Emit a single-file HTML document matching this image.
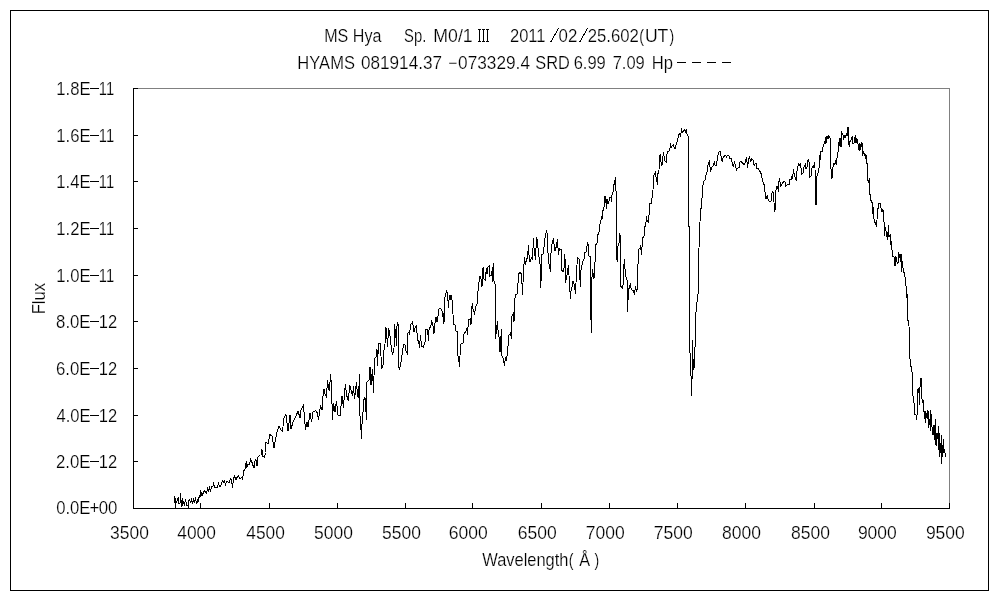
<!DOCTYPE html>
<html><head><meta charset="utf-8"><title>MS Hya spectrum</title>
<style>html,body{margin:0;padding:0;background:#fff;}svg{display:block;will-change:transform;}text{font-family:"Liberation Sans",sans-serif;fill:#000;stroke:#fff;stroke-width:0.2px;paint-order:fill stroke;vector-effect:non-scaling-stroke;}</style>
</head><body>
<svg width="1000" height="600" viewBox="0 0 1000 600">
<rect x="0" y="0" width="1000" height="600" fill="#fff"/>
<rect x="10.5" y="10.5" width="978" height="580" fill="none" stroke="#000" stroke-width="1" shape-rendering="crispEdges"/>
<g shape-rendering="crispEdges" fill="none" stroke-width="1">
<path d="M138 88.5H950M949.5 88V503" stroke="#808080"/>
<path d="M133.5 88V509M133 508.5H950" stroke="#000"/>
<path d="M134 461.5H138M134 415.5H138M134 368.5H138M134 321.5H138M134 275.5H138M134 228.5H138M134 181.5H138M134 135.5H138M134 88.5H138M200.5 503V508M269.5 503V508M337.5 503V508M405.5 503V508M472.5 503V508M541.5 503V508M609.5 503V508M677.5 503V508M745.5 503V508M814.5 503V508M881.5 503V508M949.5 503V508M677 62.5H686M692 62.5H701M707 62.5H716M722 62.5H731M479.5 29V42M478.0 29.5H481.0M478.0 41.5H481.0M483.5 29V42M482.0 29.5H485.0M482.0 41.5H485.0M487.5 29V42M486.0 29.5H489.0M486.0 41.5H489.0" stroke="#000"/>
<path d="M550.5 42.5L558.5 28.5M579.5 42.5L587.5 28.5" stroke="#000"/>
</g>
<path d="M174.5 495.5 L174.5 502.5 L175.5 498.5 L175.5 508 L175.5 502.5 L176.5 502.5 L177.5 499.5 L178.5 497.5 L178.5 503.5 L180 503 L180.5 493.5 L181.5 506.5 L182.5 498.5 L182.5 505.5 L183.5 502.5 L184.5 505.5 L185.5 499.5 L186.5 505 L188 505.5 L188.5 508 L188.5 501 L189.5 499.5 L190.5 502 L191.5 499.5 L192.5 503.5 L193.5 499.5 L194.5 501.5 L195.5 498.5 L196.5 503.5 L197.5 502 L198.5 497 L198.5 501.5 L199.5 495.5 L200 497.5 L200.5 490.5 L201.5 494 L202 492.5 L202.5 495.5 L203.5 491.5 L204.5 490.5 L205.5 492.5 L206.5 493.5 L207.5 488.5 L208.5 491 L209.5 487.5 L210.5 491.5 L211.5 486.5 L213 486.5 L213.5 482.5 L214.5 487 L216 487 L217 487.5 L218.5 483.5 L219.5 486 L220.5 486.5 L222.5 480.5 L223.5 482 L224.5 481 L225.5 484.5 L226.5 481.5 L228 482 L229 483 L230.5 479 L231.5 479.5 L232.5 487.5 L233.5 478.5 L234.5 476.5 L236 479.5 L237.5 476.5 L238.5 475.5 L240 479 L241.5 477.5 L242.5 479 L243 476.5 L243.5 471 L245 469.5 L245.5 464.5 L246.5 461.5 L246.5 467.5 L248 464.5 L249.5 464 L250.5 459.5 L251.5 461.5 L252.5 463.5 L253.5 467.5 L254.5 467 L255 461 L256 459.5 L256.5 465.5 L257.5 465 L257.5 457.5 L259 456 L260.5 455.5 L261.5 454.5 L262 449.5 L262.5 456 L264.5 457.5 L265.5 452.5 L266 442 L268 444 L270 434.5 L272 436 L274 448 L276 437 L277 432 L279 426 L281 430 L282.5 431 L284 418 L286 414.5 L288 431 L290 415 L291 429 L293 422 L296 416 L298 411 L300 418 L301 410 L303.5 405.5 L305.5 430 L307 422 L308 427 L310 413 L311.5 422 L313 412 L315.5 410.5 L317.5 413 L318.5 420 L320.5 405.5 L322 410 L323 396 L324 389 L325 394 L326.5 397 L327.5 380 L328.5 388 L329.5 391 L330.5 374 L331.5 386 L332.5 420 L333.5 403 L335 412 L336.5 401 L338 415 L340 416 L342 396 L343.5 408 L344.5 393 L345.5 384 L346.5 395 L348.5 401 L349.5 385 L350.5 388 L352.5 396 L353.5 386 L354.5 399 L356.5 382 L357.5 396 L358.5 398 L359.5 374 L359.5 410 L360.5 422 L361.5 438.5 L362 424.5 L362.5 413 L363.5 412.5 L364 399.5 L365 397.5 L366.5 419.5 L367 382 L369 380 L370 367 L371 385 L372.5 369 L373.5 393 L374.5 359 L376 357 L377 349 L377.5 366 L378.5 343 L380.5 343 L381.5 369 L383 365 L384 350 L385 344 L385.5 327 L386.5 330 L387.5 347 L388.5 329 L389.5 331 L391 345 L392.5 355 L394 348 L394.5 324 L396 338 L396.5 346 L397 326 L398 322 L398.5 365 L399.5 370 L400.5 365 L402 355 L403.5 345 L405 344.5 L406 351 L407.5 354.5 L408 333 L409.5 332.5 L409.5 335 L410.5 325 L412.5 322 L414 332 L415 328 L416.5 325.5 L417.5 340 L418.5 341 L419.5 347.5 L420.5 335 L421.5 346 L423.5 347 L424.5 343 L425.5 341 L426 329.5 L427.5 329.5 L428.5 340.5 L429 330 L431 325 L431.5 320 L433 326 L434 333.5 L435 323 L436 317.5 L437 322 L438 316.5 L439 309 L440.5 308.5 L442 311 L442 317 L443 313 L443.5 324 L444.5 320 L445 297 L446.5 290.5 L447.5 294 L448.5 308 L449 300 L450 295 L450.5 300 L451.5 295.5 L452.5 304 L453.5 324 L455 324.5 L456 331 L457 331 L457.5 353 L458.5 358 L459.5 366.5 L460.5 345 L461.5 343.5 L463 343 L464 334 L465.5 332 L467 328.5 L467.5 335 L468.5 320 L470.5 318.5 L471 324.5 L471.5 308 L472.5 303.5 L473 309 L474.5 313.5 L476 306 L477.5 303 L478 291.5 L479 282 L480 276.5 L481 279 L482 286.5 L482.5 269 L483.5 267.5 L484 279 L485.5 280 L486 272 L486.5 268 L487 274 L488 267 L489.5 265.5 L490 276 L491.5 275 L492.5 267 L493 282 L493.5 263.5 L494 281 L495.5 285 L495.5 339 L496.5 330 L497.5 321 L498 330 L499 337 L500 352 L501.5 329 L501.5 355 L503 358 L504.5 365.5 L505.5 357 L506.5 361 L507 356 L508 346 L508.5 336 L510.5 333 L511.5 339 L512 316 L513.5 313 L514 322 L514.5 302 L515.5 295 L517 294 L518 283 L518.5 274 L520 272.5 L521.5 274 L522.5 294.5 L523.5 271 L524.5 257 L525.5 264.5 L526.5 260 L527.5 257 L528.5 245.5 L529 255 L530 261.5 L531.5 257.5 L532.5 259 L533.5 238.5 L534 248 L535.5 259.5 L536.5 237.5 L537.5 240 L538.5 255.5 L539.5 259 L540 263.5 L540.5 287.5 L541.5 274.5 L541.5 254.5 L543 254 L544 247 L545 238 L546.5 230.5 L547.5 235 L548 253 L549 264 L550.5 271.5 L550.5 254 L551.5 252 L552 244 L553.5 238.5 L554 244 L555 250.5 L556.5 246 L557.5 239 L558 248 L558.5 254.5 L559.5 248.5 L561.5 250 L562 270.5 L563 271.5 L564 268.5 L564.5 254.5 L565.5 263 L565.5 282.5 L567 275.5 L568.5 265 L569.5 285 L570.5 298.5 L571 291 L572 287 L573 281 L574 284 L575.5 293.5 L576.5 272 L577.5 257.5 L579 259 L580 280 L580.5 286.5 L580.5 272 L582 265 L583 261 L584 259.5 L584.5 252 L586 252 L587 246 L587.5 242.5 L588.5 246 L589 256 L590.5 256.5 L591 320 L591.5 332.5 L592 277 L592.5 269.5 L594 278.5 L594.5 263 L595.5 261 L595.5 245.5 L597 243 L597.5 235.5 L599 232.5 L599.5 225 L600.5 224.5 L601.5 216 L602 219 L603 210.5 L604 207.5 L604.5 196.5 L605.5 196.5 L606.5 208.5 L607 199 L608 203.5 L609 201.5 L609.5 197.5 L611 197.5 L611.5 201.5 L612 195 L613 192 L613.5 186 L614.5 183 L615.5 177.5 L615.5 190.5 L616.5 191.5 L616.5 258 L617.5 261.5 L618 246 L619 243 L619.5 233 L620.5 237 L620.5 286 L622.5 288.5 L623.5 282 L623.5 269 L624.5 259 L624.5 268 L625.5 270 L626 277 L627 280 L627 312 L628 300 L628.5 290 L629.5 287 L630.5 283.5 L630.5 287 L632 290 L633.5 291 L634.5 294.5 L635.5 286.5 L636.5 291 L637.5 288 L637.5 265 L638.5 263 L638.5 250 L640 248 L640.5 245 L641.5 254.5 L642 247 L642.5 238.5 L644 236 L644.5 227 L645.5 226 L646 222 L646.5 216.5 L647 220 L648.5 222.5 L648.5 215.5 L649.5 214 L649.5 204 L651.5 203 L652 198 L653 190 L653.5 176.5 L654.5 174 L655.5 171.5 L656 177 L657.5 184.5 L657.5 174.5 L658.5 172.5 L659 170 L659.5 155.5 L660.5 154.5 L661 162 L662 165.5 L662.5 160 L663.5 152 L664 156 L665 161 L666.5 162.5 L666.5 156 L667.5 151.5 L669 151 L670 148 L670.5 143.5 L671 148 L672 146 L673.5 144.5 L674 147 L675 148.5 L676 145 L677.5 141 L678.5 135 L680 133.5 L680.5 136.5 L681.5 129.5 L682.5 132 L683.5 131 L685 129.5 L685.5 133 L686.5 129 L687 134 L688.5 136.5 L688.5 226 L689.5 226 L689.7 348 L690.7 363 L691.5 396 L692.2 373 L692.5 340 L693.3 369 L694.5 367.5 L695.2 339 L696.2 306 L697.5 300 L698.4 290 L698.5 261 L699.5 235 L700.5 209 L701.5 208 L702.5 189 L703.5 182 L705 180 L706 175 L707 172 L707.5 166 L709.5 161.5 L710.5 171.5 L712 167 L713.5 165.5 L714.5 161.5 L715 165 L716.5 165 L717.5 157.5 L718.5 153 L719.5 151.5 L720.5 152 L721.5 160.5 L722.5 161 L723 158 L724.5 156 L725.5 155.5 L726.5 157 L727.5 155.5 L729 156 L730 158.5 L731.5 158.5 L732.5 165 L733.5 166 L734.5 162.5 L735.5 165 L736.5 170 L738 168 L739.5 167.5 L739.5 162.5 L741 161.5 L742.5 163 L744 165 L745 163 L746.5 157 L747.5 167.5 L748.5 160 L749.5 156.5 L750.5 162 L751.5 159 L753 159.5 L753.5 164 L754.5 165 L755.5 163.5 L756.5 164 L757 168.5 L758.5 169 L759.5 171 L760.5 172 L761.5 175 L762.5 180 L763.5 184 L764.5 184.5 L765 192 L766 199 L767.5 195 L768 199 L769 201 L771 201 L771.5 195 L772.5 191.5 L773.5 193 L774.5 211.5 L775.5 208 L775.5 194.5 L776.5 186.5 L777.5 186.5 L778.5 191.5 L778.5 183.5 L779.5 178.5 L780.5 186 L781.5 185 L782.5 183.5 L783.5 181.5 L785 182 L785.5 186.5 L787 185 L788.5 184.5 L789.5 184 L789.5 179.5 L791 180 L791.5 176.5 L792.5 178 L793 174.5 L793.5 169.5 L794.5 175.5 L795.5 179 L796.5 180.5 L797 171.5 L798 166.5 L798.5 163.5 L799.5 165 L800.5 163.5 L801 167.5 L801.5 174.5 L803 173.5 L803.5 167.5 L804.5 166 L805.5 164 L806 169 L807 167 L807.5 161 L808.5 159.5 L809.5 164 L809.5 177.5 L811 176 L811.5 170 L812.5 166.5 L813.5 167.5 L814.5 162.5 L815 168 L815.5 204 L816.5 204.5 L816.5 176.5 L817.5 175 L818.5 171 L819 168.5 L819.5 155.5 L820.5 159.5 L821 151.5 L822.5 151 L823 147 L824 144.5 L824.5 142 L825.5 143 L826 137 L826.5 142.5 L827 136.5 L828 139 L828.5 136 L830 137.5 L830.5 168.5 L831.5 170 L832 178.5 L832.5 168 L833.5 166.5 L834 163 L835 164.5 L835.5 161.5 L836.5 163.5 L837 158 L838 152 L838.5 142.5 L839.5 146 L840 138 L840.5 146.5 L841.5 146.5 L841.5 131.5 L843 135 L843.5 140 L844.5 135.5 L845.5 137 L846.5 134 L847.5 135.5 L848 127.5 L848.5 127.5 L848.5 144 L849.5 146.5 L850 141.5 L851 140.5 L851.5 137.5 L852.5 136.5 L852.5 143 L854 143 L854.5 139 L855.5 135.5 L856 143 L857 138.5 L857.5 143.5 L858.5 144.5 L859 149.5 L859.5 143 L860 150.5 L861 144.5 L861.5 146.5 L862 142.5 L862.5 156 L863.5 151.5 L864.5 155 L865.5 154.5 L866 159 L866.5 155.5 L867 163.5 L867.5 163.5 L867.5 179.5 L868.5 181.5 L869.5 178 L869.5 194.5 L870.5 195 L871 200.5 L872.5 203.5 L873 214 L873.5 207 L874 219 L875 222.5 L876.5 226.5 L877 220 L877.5 209 L878.5 208 L879 203 L880.5 203 L881 208 L882 211.5 L882.5 210 L883.5 210.5 L884 222 L884.5 235.5 L885.5 227.5 L886.5 234 L887.5 239.5 L888.5 225 L889 237 L890.5 234.5 L890.5 244.5 L891.5 241.5 L892 249.5 L892.5 256 L894 256.5 L894.5 265.5 L895.5 265.5 L896 256.5 L896.5 261 L898 263.5 L898.5 253 L899.5 255 L900.5 261.5 L901 254 L901.5 271.5 L902.5 261.5 L903 268 L904 272.5 L905 277 L905.5 285 L906.5 286.5 L907 298 L907.5 294 L907.5 320.5 L908.5 321 L909 326 L909.5 351 L910.5 366 L911.5 366.5 L912 371.5 L912.5 395.5 L913.5 396.5 L913.5 402.5 L914.5 404 L914.5 414.5 L916 414.5 L916.5 419.5 L917 416.5 L917.5 389.5 L918.5 392 L919 388.5 L919.5 404.5 L920 387.5 L920.5 378 L921 378 L921.5 398.5 L922.5 400 L923 402.5 L923.5 401.5 L924 412 L924.5 418.5 L925 411 L925.5 422.5 L926.5 413.5 L927.5 418.5 L928 410 L928.5 427.5 L929.5 419 L930.5 430.5 L930.5 410.5 L931.5 418 L932.5 434.5 L933.5 434.5 L934 425 L934.5 440 L935.5 419 L935.5 444 L936.5 445.5 L937 433 L938 439 L938.5 426 L938.5 449.5 L939.5 433.5 L939.5 456.5 L940.5 450 L941.5 435.5 L941.5 463.5 L942.5 450.5 L943.5 439 L944 452.5 L944.5 449.5 L945.5 456.5 L945.5 453" fill="none" stroke="#000" stroke-width="1" stroke-linejoin="miter" shape-rendering="crispEdges"/>
<text transform="translate(56.14,514) scale(1.0446,1.11)" font-size="16">0.0E</text>
<text transform="translate(89.58,514) scale(1.0553,1.11)" font-size="16">+</text>
<text transform="translate(98.64,514) scale(1.0520,1.11)" font-size="16">00</text>
<text transform="translate(55.96,468) scale(1.0503,1.11)" font-size="16">2.0E</text>
<text transform="translate(98.74,468) scale(1.0336,1.11)" font-size="16">12</text>
<text transform="translate(56.42,422) scale(1.0361,1.11)" font-size="16">4.0E</text>
<text transform="translate(98.74,422) scale(1.0336,1.11)" font-size="16">12</text>
<text transform="translate(55.95,375) scale(1.0506,1.11)" font-size="16">6.0E</text>
<text transform="translate(98.74,375) scale(1.0336,1.11)" font-size="16">12</text>
<text transform="translate(56.07,328) scale(1.0470,1.11)" font-size="16">8.0E</text>
<text transform="translate(98.74,328) scale(1.0336,1.11)" font-size="16">12</text>
<text transform="translate(56.23,282) scale(1.0419,1.11)" font-size="16">1.0E</text>
<text transform="translate(98.87,282) scale(0.9240,1.11)" font-size="16">11</text>
<text transform="translate(56.23,235) scale(1.0419,1.11)" font-size="16">1.2E</text>
<text transform="translate(98.87,235) scale(0.9240,1.11)" font-size="16">11</text>
<text transform="translate(56.23,188) scale(1.0419,1.11)" font-size="16">1.4E</text>
<text transform="translate(98.87,188) scale(0.9240,1.11)" font-size="16">11</text>
<text transform="translate(56.23,142) scale(1.0419,1.11)" font-size="16">1.6E</text>
<text transform="translate(98.87,142) scale(0.9240,1.11)" font-size="16">11</text>
<text transform="translate(56.23,95) scale(1.0419,1.11)" font-size="16">1.8E</text>
<text transform="translate(98.87,95) scale(0.9240,1.11)" font-size="16">11</text>
<path d="M90 461.5H99M90 415.5H99M90 368.5H99M90 321.5H99M90 275.5H99M90 228.5H99M90 181.5H99M90 135.5H99M90 88.5H99" fill="none" stroke="#000" stroke-width="1" shape-rendering="crispEdges"/>
<text transform="translate(110.03,539) scale(1.0914,1.11)" font-size="16">3500</text>
<text transform="translate(177.30,539) scale(1.0838,1.11)" font-size="16">4000</text>
<text transform="translate(246.30,539) scale(1.0838,1.11)" font-size="16">4500</text>
<text transform="translate(314.00,539) scale(1.0923,1.11)" font-size="16">5000</text>
<text transform="translate(382.00,539) scale(1.0923,1.11)" font-size="16">5500</text>
<text transform="translate(448.81,539) scale(1.0978,1.11)" font-size="16">6000</text>
<text transform="translate(517.81,539) scale(1.0978,1.11)" font-size="16">6500</text>
<text transform="translate(585.80,539) scale(1.0981,1.11)" font-size="16">7000</text>
<text transform="translate(653.80,539) scale(1.0981,1.11)" font-size="16">7500</text>
<text transform="translate(721.93,539) scale(1.0943,1.11)" font-size="16">8000</text>
<text transform="translate(790.93,539) scale(1.0943,1.11)" font-size="16">8500</text>
<text transform="translate(857.88,539) scale(1.0959,1.11)" font-size="16">9000</text>
<text transform="translate(925.88,539) scale(1.0959,1.11)" font-size="16">9500</text>
<text transform="translate(324.18,42) scale(1.0074,1.11)" font-size="16">MS Hya</text>
<text transform="translate(404.07,42) scale(0.9280,1.11)" font-size="16">Sp.</text>
<text transform="translate(433.30,42) scale(1.1066,1.11)" font-size="16">M0/1</text>
<text transform="translate(509.97,42) scale(1.0326,1.11)" font-size="16">2011</text>
<text transform="translate(558.59,42) scale(1.0544,1.11)" font-size="16">02</text>
<text transform="translate(587.66,42) scale(1.0458,1.11)" font-size="16">25.602</text>
<text transform="translate(639.37,42) scale(0.8844,1.11)" font-size="16">(</text>
<text transform="translate(644.89,42) scale(1.1024,1.11)" font-size="16">UT</text>
<text transform="translate(669.41,42) scale(0.8844,1.11)" font-size="16">)</text>
<text transform="translate(297.35,69) scale(1.0341,1.11)" font-size="16">HYAMS</text>
<text transform="translate(361.02,69) scale(1.0716,1.11)" font-size="16">081914.37</text>
<text transform="translate(448.24,69) scale(0.9653,1.11)" font-size="16">−</text>
<text transform="translate(458.07,69) scale(1.0778,1.11)" font-size="16">073329.4</text>
<text transform="translate(535.25,69) scale(1.0220,1.11)" font-size="16">SRD</text>
<text transform="translate(573.66,69) scale(1.0315,1.11)" font-size="16">6.99</text>
<text transform="translate(612.65,69) scale(1.0318,1.11)" font-size="16">7.09</text>
<text transform="translate(651.64,69) scale(1.0395,1.11)" font-size="16">Hp</text>
<text transform="translate(482.23,566) scale(1.0291,1.11)" font-size="16">Wavelength</text>
<text transform="translate(568.87,566) scale(0.8844,1.11)" font-size="16">(</text>
<text transform="translate(579.17,566) scale(1.0179,1.11)" font-size="16">Å</text>
<text transform="translate(594.41,566) scale(0.8844,1.11)" font-size="16">)</text>
<text transform="translate(45,314.37) rotate(-90) scale(1.0438,1.11)" font-size="16">Flux</text>
</svg>
</body></html>
